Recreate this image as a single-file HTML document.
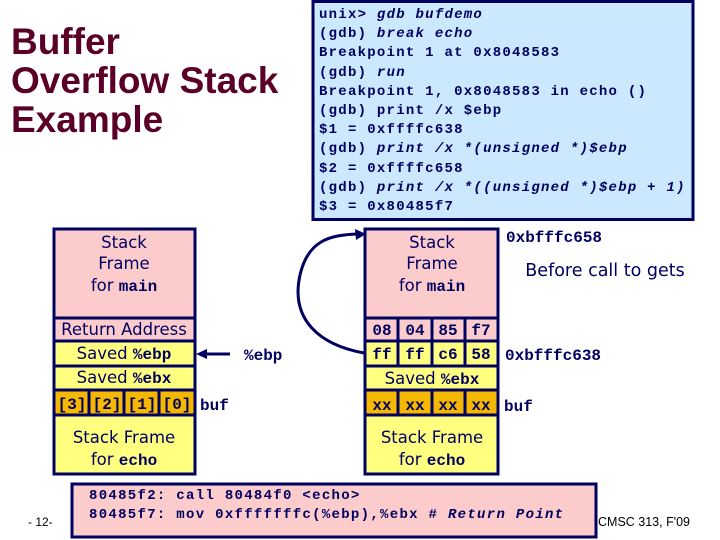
<!DOCTYPE html>
<html><head><meta charset="utf-8"><style>
html,body{margin:0;padding:0;background:#fff;width:720px;height:540px;overflow:hidden}
svg{display:block}
.t{font-family:"Liberation Sans",sans-serif;font-weight:bold;font-size:37px;fill:#5a0028}
.g{font-family:"Liberation Mono",monospace;font-weight:bold;font-size:14px;letter-spacing:1.25px;fill:#000060}
.gi{font-style:italic}
.c{font-family:"DejaVu Sans",sans-serif;font-size:16.5px;fill:#000060;text-anchor:middle}
.m{font-family:"Liberation Mono",monospace;font-weight:bold;font-size:16px;fill:#000060}
.mc{text-anchor:middle}
</style></head><body>
<svg width="720" height="540" viewBox="0 0 720 540" xmlns="http://www.w3.org/2000/svg">
<text class="t" x="11" y="54">Buffer</text>
<text class="t" x="11" y="93">Overflow Stack</text>
<text class="t" x="11" y="132">Example</text>

<rect x="313" y="1.5" width="380" height="218" fill="#cce8ff" stroke="#000060" stroke-width="3"/>
<g class="g">
<text x="319" y="18">unix&gt; <tspan class="gi">gdb bufdemo</tspan></text>
<text x="319" y="37">(gdb) <tspan class="gi">break echo</tspan></text>
<text x="319" y="56">Breakpoint 1 at 0x8048583</text>
<text x="319" y="76">(gdb) <tspan class="gi">run</tspan></text>
<text x="319" y="95">Breakpoint 1, 0x8048583 in echo ()</text>
<text x="319" y="114">(gdb) print /x $ebp</text>
<text x="319" y="133">$1 = 0xffffc638</text>
<text x="319" y="152">(gdb) <tspan class="gi">print /x *(unsigned *)$ebp</tspan></text>
<text x="319" y="172">$2 = 0xffffc658</text>
<text x="319" y="191">(gdb) <tspan class="gi">print /x *((unsigned *)$ebp + 1)</tspan></text>
<text x="319" y="210">$3 = 0x80485f7</text>
</g>

<!-- left stack -->
<g stroke="#000060" stroke-width="3">
<rect x="54" y="229" width="141" height="245" fill="#ffff80"/>
<rect x="54" y="229" width="141" height="112" fill="#fccccc"/>
<line x1="54" y1="318" x2="195" y2="318"/>
<line x1="54" y1="341" x2="195" y2="341"/>
<line x1="54" y1="366" x2="195" y2="366"/>
<line x1="54" y1="390" x2="195" y2="390"/>
<rect x="54" y="390" width="141" height="25" fill="#f5b800"/>
<line x1="89" y1="390" x2="89" y2="415"/><line x1="124" y1="390" x2="124" y2="415"/><line x1="159" y1="390" x2="159" y2="415"/>
</g>
<text class="c" x="124" y="248">Stack</text>
<text class="c" x="124" y="269">Frame</text>
<text class="c" x="124" y="291">for <tspan class="m">main</tspan></text>
<text class="c" x="124" y="335">Return Address</text>
<text class="c" x="124" y="359">Saved <tspan class="m">%ebp</tspan></text>
<text class="c" x="124" y="383">Saved <tspan class="m">%ebx</tspan></text>
<g class="m mc"><text x="72" y="409">[3]</text><text x="107" y="409">[2]</text><text x="142" y="409">[1]</text><text x="177" y="409">[0]</text></g>
<text class="m" x="200" y="410">buf</text>
<text class="c" x="124" y="443">Stack Frame</text>
<text class="c" x="124" y="465">for <tspan class="m">echo</tspan></text>
<line x1="230" y1="354" x2="205" y2="354" stroke="#000060" stroke-width="3"/>
<polygon points="196,354 207,349 207,359" fill="#000060"/>
<text class="m" x="244" y="360">%ebp</text>

<!-- right stack -->
<g stroke="#000060" stroke-width="3">
<rect x="365" y="229" width="133" height="245" fill="#ffff80"/>
<rect x="365" y="229" width="133" height="112" fill="#fccccc"/>
<line x1="365" y1="318" x2="498" y2="318"/>
<line x1="365" y1="341" x2="498" y2="341"/>
<line x1="365" y1="366" x2="498" y2="366"/>
<line x1="365" y1="390" x2="498" y2="390"/>
<rect x="365" y="390" width="133" height="25" fill="#f5b800"/>
<line x1="398" y1="318" x2="398" y2="366"/><line x1="432" y1="318" x2="432" y2="366"/><line x1="465" y1="318" x2="465" y2="366"/>
<line x1="398" y1="390" x2="398" y2="415"/><line x1="432" y1="390" x2="432" y2="415"/><line x1="465" y1="390" x2="465" y2="415"/>
</g>
<text class="c" x="432" y="248">Stack</text>
<text class="c" x="432" y="269">Frame</text>
<text class="c" x="432" y="291">for <tspan class="m">main</tspan></text>
<g class="m mc">
<text x="382" y="335">08</text><text x="415" y="335">04</text><text x="448" y="335">85</text><text x="481" y="335">f7</text>
<text x="382" y="359">ff</text><text x="415" y="359">ff</text><text x="448" y="359">c6</text><text x="481" y="359">58</text>
<text x="382" y="410">xx</text><text x="415" y="410">xx</text><text x="448" y="410">xx</text><text x="481" y="410">xx</text>
</g>
<text class="c" x="432" y="384">Saved <tspan class="m">%ebx</tspan></text>
<text class="c" x="432" y="443">Stack Frame</text>
<text class="c" x="432" y="465">for <tspan class="m">echo</tspan></text>
<path d="M364 353 C 320 345, 290 320, 300 275 C 308 240, 330 235, 358 234" fill="none" stroke="#000060" stroke-width="3"/>
<polygon points="366,234 355,229 356,240" fill="#000060"/>
<text class="m" x="506" y="242">0xbfffc658</text>
<text class="c" x="605" y="276" style="font-size:17.5px">Before call to gets</text>
<text class="m" x="505" y="360">0xbfffc638</text>
<text class="m" x="504" y="411">buf</text>

<!-- bottom code box -->
<rect x="72" y="484" width="524" height="53" fill="#fccccc" stroke="#000060" stroke-width="3"/>
<g style="font-family:'Liberation Mono',monospace;font-size:14px;letter-spacing:1.3px;fill:#000060;font-weight:bold">
<text x="89" y="499">80485f2: call 80484f0 &lt;echo&gt;</text>
<text x="89" y="518">80485f7: mov  0xfffffffc(%ebp),%ebx # <tspan font-style="italic">Return Point</tspan></text>
</g>
<text x="28" y="526" style="font-family:'Liberation Sans',sans-serif;font-size:12px;fill:#000">- 12-</text>
<text x="598" y="526" style="font-family:'Liberation Sans',sans-serif;font-size:12.5px;fill:#000">CMSC 313, F'09</text>
</svg>
</body></html>
